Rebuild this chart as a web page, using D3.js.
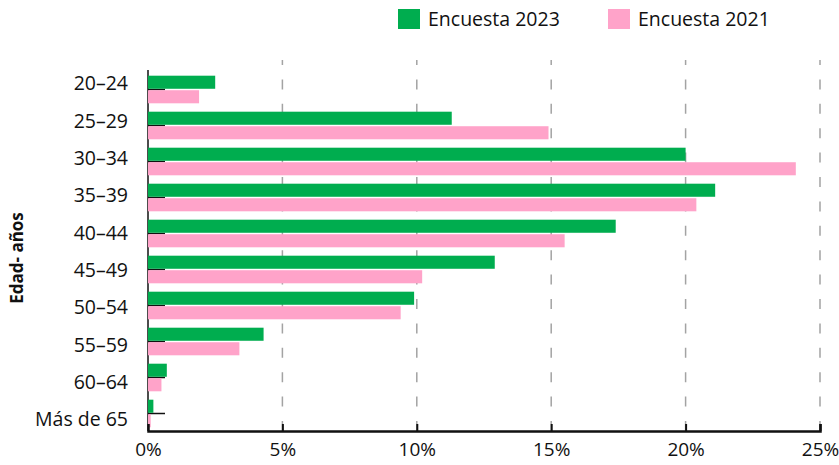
<!DOCTYPE html>
<html>
<head>
<meta charset="utf-8">
<script src="https://cdn.jsdelivr.net/npm/d3@7"></script>
<style>
  html, body { margin: 0; padding: 0; background: #fff; }
  svg { display: block; font-family: "Open Sans", "DejaVu Sans", sans-serif; }
</style>
</head>
<body>
<div id="chart"></div>
<script>
// Age groups and survey shares (percent of respondents)
const categories = ["20–24", "25–29", "30–34", "35–39", "40–44", "45–49", "50–54", "55–59", "60–64", "Más de 65"];
const series = ["Encuesta 2023", "Encuesta 2021"];
const values2023 = [2.5, 11.3, 20.0, 21.1, 17.4, 12.9, 9.9, 4.3, 0.7, 0.2];
const values2021 = [1.9, 14.9, 24.1, 20.4, 15.5, 10.2, 9.4, 3.4, 0.5, 0.1];
const xTicks = [0, 5, 10, 15, 20, 25];
const colors = ["#00ad4f", "#ffa3c9"];

const width = 839, height = 465;
const plot = { left: 148, right: 820, top: 71.5, bottom: 431.5 };
const fontSize = 19.5;

const rows = categories.map((c, i) => ({ cat: c, vals: [values2023[i], values2021[i]] }));

const svg = d3.select("#chart").append("svg")
  .attr("width", width).attr("height", height);

const x = d3.scaleLinear().domain([0, 25]).range([plot.left, plot.right]);
const y = d3.scaleBand().domain(categories).range([plot.top, plot.bottom])
  .paddingInner(0.233).paddingOuter(0.1165);
const ySub = d3.scaleBand().domain(series).range([0, y.bandwidth()]).paddingInner(0.1);
// category labels sit on their own evenly spaced column
const yLabel = d3.scalePoint().domain(categories).range([83.5, 419.5]);

// dashed vertical gridlines
svg.append("g")
  .selectAll("line")
  .data(xTicks.slice(1))
  .join("line")
  .attr("x1", d => x(d)).attr("x2", d => x(d))
  .attr("y1", 431).attr("y2", 60)
  .attr("stroke", "#a3a3a3")
  .attr("stroke-width", 1.5)
  .attr("stroke-dasharray", "10,14.4");

// left axis: line plus short inward ticks at each group centre
const yAxis = svg.append("g")
  .attr("transform", `translate(${plot.left},0)`)
  .call(d3.axisLeft(y).tickSize(-17).tickFormat(""));
yAxis.select(".domain").remove();
yAxis.selectAll(".tick line").attr("stroke", "#111").attr("stroke-width", 1.5);
svg.append("line")
  .attr("x1", plot.left).attr("x2", plot.left).attr("y1", 70).attr("y2", 431)
  .attr("stroke", "#111").attr("stroke-width", 1.5);

// bars
const groups = svg.append("g").selectAll("g")
  .data(rows)
  .join("g")
  .attr("transform", d => `translate(0,${y(d.cat)})`);
groups.selectAll("rect")
  .data(d => d.vals.map((v, k) => ({ s: series[k], v, k })))
  .join("rect")
  .attr("x", x(0))
  .attr("y", d => ySub(d.s))
  .attr("width", d => x(d.v) - x(0))
  .attr("height", ySub.bandwidth())
  .attr("fill", d => colors[d.k]);

// category labels
svg.append("g")
  .selectAll("text")
  .data(categories)
  .join("text")
  .attr("x", 128)
  .attr("y", d => yLabel(d))
  .attr("dy", "0.35em")
  .attr("text-anchor", "end")
  .attr("font-size", fontSize)
  .attr("font-weight", 500)
  .attr("fill", "#111")
  .text(d => d);

// bottom axis
const xAxis = svg.append("g")
  .attr("transform", `translate(0,431)`)
  .call(d3.axisBottom(x).tickValues(xTicks).tickSize(-7).tickPadding(12).tickFormat(d => d + "%"));
xAxis.select(".domain").attr("stroke", "#111").attr("stroke-width", 2.5);
xAxis.selectAll(".tick line").attr("stroke", "#111").attr("stroke-width", 2);
xAxis.selectAll(".tick").filter(d => d === 0).select("line").remove();
xAxis.selectAll(".tick text")
  .attr("font-size", 19).attr("font-weight", 500).attr("fill", "#111")
  .attr("font-family", "'Open Sans', sans-serif");

// axis title
svg.append("text")
  .attr("transform", "translate(17,258) rotate(-90)")
  .attr("dy", "0.35em")
  .attr("text-anchor", "middle")
  .attr("font-size", 17)
  .attr("font-weight", "bold")
  .attr("fill", "#111")
  .text("Edad- años");

// legend
const legendPos = [398, 608];
const legend = svg.append("g").selectAll("g")
  .data(series)
  .join("g")
  .attr("transform", (d, i) => `translate(${legendPos[i]},9)`);
legend.append("rect")
  .attr("width", 22).attr("height", 20)
  .attr("fill", (d, i) => colors[i]);
legend.append("text")
  .attr("x", 30).attr("y", 10)
  .attr("dy", "0.35em")
  .attr("font-size", fontSize)
  .attr("font-weight", 500)
  .attr("fill", "#111")
  .text(d => d);
</script>
</body>
</html>
